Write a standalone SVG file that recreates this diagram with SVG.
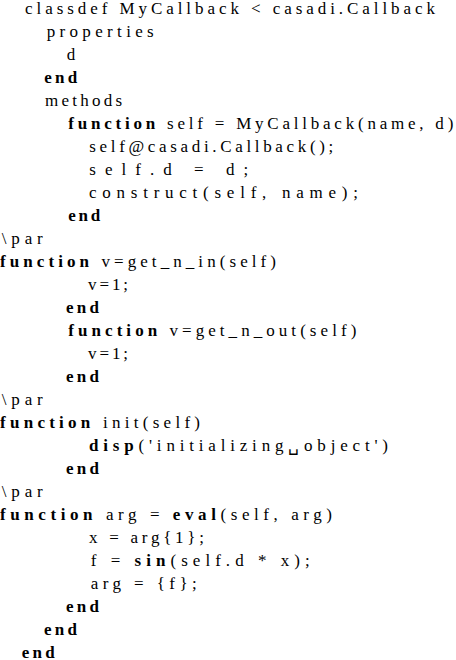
<svg xmlns="http://www.w3.org/2000/svg" width="456" height="660" viewBox="0 0 456 660">
<style>
.t text{fill:#000;}
.b{font-weight:bold;}
</style>
<rect width="456" height="660" fill="#fff"/>
<g id="listing" class="t" font-family="'Liberation Serif', 'Times New Roman', serif" font-size="17">
<text id="l1" x="25" y="14" textLength="410" lengthAdjust="spacing">classdef MyCallback &lt; casadi.Callback</text>
<text id="l2" x="46.7" y="36.8" textLength="107" lengthAdjust="spacing">properties</text>
<text id="l3" x="66.7" y="59.8">d</text>
<text id="l4" class="b" x="44.3" y="82.8" textLength="33" lengthAdjust="spacing">end</text>
<text id="l5" x="45" y="105.8" textLength="77" lengthAdjust="spacing">methods</text>
<text id="l6" x="68.3" y="128.8" textLength="385" lengthAdjust="spacing"><tspan class="b">function</tspan> self = MyCallback(name, d)</text>
<text id="l7" x="89.3" y="151.8" textLength="244" lengthAdjust="spacing">self@casadi.Callback();</text>
<text id="l8" x="89.3" y="174.8" textLength="159" lengthAdjust="spacing">self.d = d;</text>
<text id="l9" x="89" y="197.8" textLength="269" lengthAdjust="spacing">construct(self, name);</text>
<text id="l10" class="b" x="68.3" y="220.8" textLength="32" lengthAdjust="spacing">end</text>
<text id="l11" x="1.7" y="243.8" textLength="41" lengthAdjust="spacing">\par</text>
<text id="l12" x="0" y="266.8" textLength="276" lengthAdjust="spacing"><tspan class="b">function</tspan> v=get_n_in(self)</text>
<text id="l13" x="88" y="289.8" textLength="40" lengthAdjust="spacing">v=1;</text>
<text id="l14" class="b" x="66" y="312.8" textLength="33" lengthAdjust="spacing">end</text>
<text id="l15" x="68.3" y="335.8" textLength="288" lengthAdjust="spacing"><tspan class="b">function</tspan> v=get_n_out(self)</text>
<text id="l16" x="88" y="358.8" textLength="40" lengthAdjust="spacing">v=1;</text>
<text id="l17" class="b" x="66" y="381.8" textLength="33" lengthAdjust="spacing">end</text>
<text id="l18" x="1.7" y="404.8" textLength="41" lengthAdjust="spacing">\par</text>
<text id="l19" x="0" y="427.8" textLength="200" lengthAdjust="spacing"><tspan class="b">function</tspan> init(self)</text>
<text id="l20" x="89" y="450.8" textLength="299" lengthAdjust="spacing"><tspan class="b">disp</tspan>('initializing␣object')</text>
<text id="l21" class="b" x="66" y="473.8" textLength="33" lengthAdjust="spacing">end</text>
<text id="l22" x="1.7" y="496.8" textLength="41" lengthAdjust="spacing">\par</text>
<text id="l23" x="0" y="519.8" textLength="332" lengthAdjust="spacing"><tspan class="b">function</tspan> arg = <tspan class="b">eval</tspan>(self, arg)</text>
<text id="l24" x="89" y="542.8" textLength="115" lengthAdjust="spacing">x = arg{1};</text>
<text id="l25" x="90.7" y="565.8" textLength="219" lengthAdjust="spacing">f = <tspan class="b">sin</tspan>(self.d * x);</text>
<text id="l26" x="90.7" y="588.8" textLength="106" lengthAdjust="spacing">arg = {f};</text>
<text id="l27" class="b" x="66" y="611.8" textLength="33" lengthAdjust="spacing">end</text>
<text id="l28" class="b" x="44" y="634.8" textLength="33" lengthAdjust="spacing">end</text>
<text id="l29" class="b" x="21.7" y="657.5" textLength="33" lengthAdjust="spacing">end</text>
</g>
</svg>
